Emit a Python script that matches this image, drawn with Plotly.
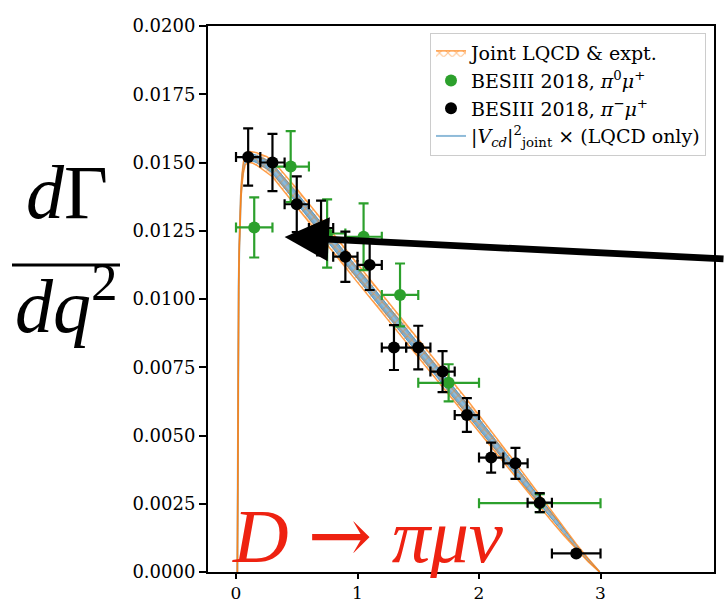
import plotly.graph_objects as go

# Differential rate for D -> pi mu nu (central curve and band half-widths)
q2_curve = [0.0112, 0.012, 0.013, 0.015, 0.018, 0.022, 0.027, 0.033, 0.040, 0.050,
            0.060, 0.075, 0.090, 0.115, 0.140, 0.170, 0.200, 0.250, 0.300, 0.400,
            0.500, 0.600, 0.700, 0.800, 0.900, 1.000, 1.100, 1.200, 1.300, 1.400,
            1.500, 1.600, 1.700, 1.800, 1.900, 2.000, 2.100, 2.200, 2.300, 2.400,
            2.500, 2.600, 2.700, 2.800, 2.900, 2.950, 2.993]
rate_curve = [0.0, 0.0016, 0.0034, 0.0060, 0.0086, 0.0105, 0.0119, 0.0130, 0.0138, 0.0144,
              0.0148, 0.0151, 0.01518, 0.0152, 0.01518, 0.01513, 0.01505, 0.01494, 0.01478, 0.01425,
              0.0137, 0.01315, 0.0126, 0.01205, 0.0115, 0.01095, 0.0104, 0.00985, 0.0093, 0.00875,
              0.0082, 0.00765, 0.0071, 0.00655, 0.006, 0.00543, 0.00487, 0.0043, 0.00373, 0.00316,
              0.0026, 0.00203, 0.00147, 0.00093, 0.00043, 0.0002, 0.0]
joint_halfwidth = [0, 0.00004, 0.00008, 0.00011, 0.00013, 0.00015, 0.00016, 0.00017, 0.00018, 0.00019,
                   0.0002, 0.0002, 0.0002, 0.0002, 0.00021, 0.00023, 0.00025, 0.00028, 0.0003, 0.00033,
                   0.00034, 0.00034, 0.00034, 0.00034, 0.00034, 0.00034, 0.00034, 0.00034, 0.00034, 0.00034,
                   0.00034, 0.00034, 0.00033, 0.00033, 0.00032, 0.00031, 0.0003, 0.00029, 0.00027, 0.00025,
                   0.00022, 0.00018, 0.00014, 0.0001, 0.00006, 0.00003, 0]
lqcd_halfwidth = [0, 0.00002, 0.00004, 0.00006, 0.00007, 0.00008, 0.00009, 0.0001, 0.00011, 0.00011,
                  0.00012, 0.00012, 0.00012, 0.00012, 0.00013, 0.00014, 0.00015, 0.00017, 0.00018, 0.0002,
                  0.0002, 0.0002, 0.0002, 0.0002, 0.0002, 0.0002, 0.0002, 0.0002, 0.0002, 0.0002,
                  0.0002, 0.0002, 0.0002, 0.0002, 0.00019, 0.00019, 0.00018, 0.00017, 0.00016, 0.00015,
                  0.00013, 0.00011, 0.00008, 0.00006, 0.00004, 0.00002, 0]

# BESIII 2018, D0 -> pi- mu+
pim_q2 = [0.1, 0.3, 0.5, 0.7, 0.9, 1.1, 1.3, 1.5, 1.7, 1.9, 2.1, 2.3, 2.5, 2.8]
pim_q2_err = [0.1, 0.1, 0.1, 0.1, 0.1, 0.1, 0.1, 0.1, 0.1, 0.1, 0.1, 0.1, 0.1, 0.2]
pim_rate = [0.0152, 0.0150, 0.01347, 0.0126, 0.01155, 0.01125, 0.00822, 0.00822, 0.00734,
            0.00575, 0.00419, 0.00398, 0.00254, 0.00068]
pim_rate_err = [0.00105, 0.00105, 0.00102, 0.001, 0.00092, 0.00092, 0.00082, 0.0008, 0.00075,
                0.00062, 0.00055, 0.00057, 0.00035, 0.00008]

# BESIII 2018, D+ -> pi0 mu+
pi0_q2 = [0.15, 0.45, 0.75, 1.05, 1.35, 1.75, 2.5]
pi0_q2_err = [0.15, 0.15, 0.15, 0.15, 0.15, 0.25, 0.5]
pi0_rate = [0.01262, 0.01485, 0.0124, 0.01228, 0.01015, 0.00693, 0.00252]
pi0_rate_err = [0.0011, 0.0013, 0.00125, 0.00122, 0.00115, 0.00068, 0.00033]

ORANGE = "#ff7f0e"
GREEN = "#2ca02c"
SERIF = "DejaVu Serif"
MATH = "Liberation Serif"

joint_lo = [r - h for r, h in zip(rate_curve, joint_halfwidth)]
joint_hi = [r + h for r, h in zip(rate_curve, joint_halfwidth)]
lqcd_lo = [r - h for r, h in zip(rate_curve, lqcd_halfwidth)]
lqcd_hi = [r + h for r, h in zip(rate_curve, lqcd_halfwidth)]

fig = go.Figure()

# LQCD-only band (filled blue)
fig.add_trace(go.Scatter(x=q2_curve, y=lqcd_lo, mode="lines",
                         line=dict(color="rgba(31,119,180,0.8)", width=0.8),
                         showlegend=False, hoverinfo="skip"))
fig.add_trace(go.Scatter(x=q2_curve, y=lqcd_hi, mode="lines", fill="tonexty",
                         fillcolor="rgba(31,119,180,0.6)",
                         line=dict(color="rgba(31,119,180,0.8)", width=0.8),
                         showlegend=False, hoverinfo="skip"))

# Central curve, |Vcd|^2 x (LQCD only)
fig.add_trace(go.Scatter(x=q2_curve, y=rate_curve, mode="lines",
                         line=dict(color="#8fbbd9", width=2),
                         name="|<i>V</i><sub><i>cd</i></sub>|<sup>2</sup><sub>joint</sub> × (LQCD only)",
                         legendrank=4))

# Joint LQCD & experiment band (orange cross hatch)
fig.add_trace(go.Scatter(x=q2_curve, y=joint_lo, mode="lines",
                         line=dict(color="rgba(255,127,14,0.75)", width=1.5),
                         showlegend=False, hoverinfo="skip"))
fig.add_trace(go.Scatter(x=q2_curve, y=joint_hi, mode="lines", fill="tonexty",
                         fillcolor="rgba(0,0,0,0)",
                         fillpattern=dict(shape="x", fgcolor=ORANGE, bgcolor="rgba(0,0,0,0)",
                                          size=6, solidity=0.3),
                         line=dict(color="rgba(255,127,14,0.75)", width=1.5),
                         name="Joint LQCD &amp; expt.", legendrank=1))

# Experimental points
fig.add_trace(go.Scatter(
    x=pi0_q2, y=pi0_rate, mode="markers",
    marker=dict(color=GREEN, size=12),
    error_x=dict(type="data", array=pi0_q2_err, color=GREEN, thickness=2.2, width=5),
    error_y=dict(type="data", array=pi0_rate_err, color=GREEN, thickness=2.2, width=5),
    name="BESIII 2018, <i>π</i><sup>0</sup><i>μ</i><sup>+</sup>", legendrank=2))
fig.add_trace(go.Scatter(
    x=pim_q2, y=pim_rate, mode="markers",
    marker=dict(color="black", size=12),
    error_x=dict(type="data", array=pim_q2_err, color="black", thickness=2.2, width=5),
    error_y=dict(type="data", array=pim_rate_err, color="black", thickness=2.2, width=5),
    name="BESIII 2018, <i>π</i><sup>−</sup><i>μ</i><sup>+</sup>", legendrank=3))

# Pixel geometry of the plotting area
W, H = 725, 605
L, R, T, B = 208, 11, 26, 33
pw, ph = W - L - R, H - T - B


def px_to_paper(px, py):
    return (px - L) / pw, (H - B - py) / ph


annotations = []
# y-axis label as a stacked fraction dΓ / dq²
x0, y0 = px_to_paper(67, 192)
annotations.append(dict(xref="paper", yref="paper", x=x0, y=y0, xanchor="center", yanchor="middle",
                        text="<i>d</i>Γ", showarrow=False,
                        font=dict(family=MATH, size=76, color="black")))
x1, y1 = px_to_paper(66, 300)
annotations.append(dict(xref="paper", yref="paper", x=x1, y=y1, xanchor="center", yanchor="middle",
                        text="<i>dq</i><sup>2</sup>", showarrow=False,
                        font=dict(family=MATH, size=76, color="black")))

# process label
annotations.append(dict(xref="x", yref="y", x=-0.05, y=0.00135, xanchor="left", yanchor="middle",
                        text=("<i>D</i> <span style=\"font-family:'DejaVu Serif'\">→</span> "
                              "<i>πμν</i>"),
                        showarrow=False,
                        font=dict(family=MATH, size=77, color="#ee2211")))

# pointer arrow into the band
annotations.append(dict(xref="x", yref="y", x=0.40, y=0.01227, ax=460, ay=22,
                        showarrow=True, arrowhead=2, arrowsize=1.3, arrowwidth=6.8,
                        arrowcolor="black", text=""))

fx0, fy = px_to_paper(12, 265)
fx1, _ = px_to_paper(120, 265)
shapes = [dict(type="line", xref="paper", yref="paper", x0=fx0, x1=fx1, y0=fy, y1=fy,
               line=dict(color="black", width=3))]

lx, ly = px_to_paper(706, 33)

fig.update_layout(
    width=W, height=H,
    margin=dict(l=L, r=R, t=T, b=B, pad=0),
    paper_bgcolor="white", plot_bgcolor="white",
    font=dict(family=SERIF, size=18, color="black"),
    annotations=annotations,
    shapes=shapes,
    legend=dict(x=lx, y=ly, xanchor="right", yanchor="top",
                bgcolor="rgba(255,255,255,0.8)", bordercolor="#cccccc", borderwidth=1,
                font=dict(family=SERIF, size=19, color="black"),
                traceorder="normal"),
    showlegend=True,
)
fig.update_xaxes(range=[-0.2305, 3.934], tickvals=[0, 1, 2, 3], ticks="outside", ticklen=5,
                 tickwidth=1.5, tickcolor="black", showline=True, linewidth=2, linecolor="black",
                 mirror=True, showgrid=False, zeroline=False, automargin=False,
                 tickfont=dict(family=SERIF, size=17))
fig.update_yaxes(range=[0, 0.02], dtick=0.0025, tickformat=".4f", ticks="outside", ticklen=7,
                 tickwidth=1.5, tickcolor="black", showline=True, linewidth=2, linecolor="black",
                 mirror=True, showgrid=False, zeroline=False, automargin=False,
                 tickfont=dict(family=SERIF, size=18))

fig.write_html("out.html")
